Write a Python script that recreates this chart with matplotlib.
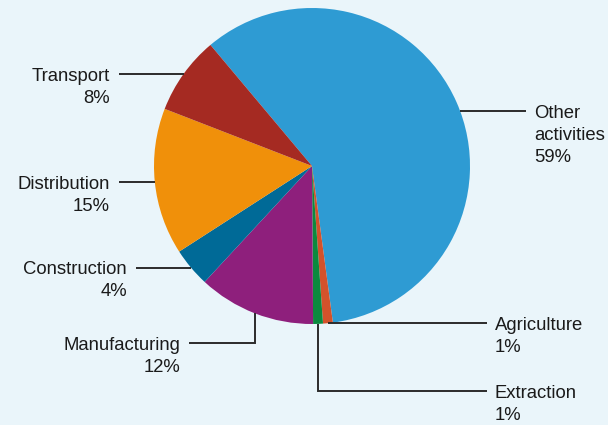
import numpy as np
import matplotlib.pyplot as plt

# Share of activity by sector (%)
sectors = ["Other\nactivities", "Agriculture", "Extraction", "Manufacturing",
           "Construction", "Distribution", "Transport"]
shares = [59, 1, 1, 12, 4, 15, 8]
colors = ["#2E9BD3", "#D3522B", "#0B8A3E", "#8E1F7C", "#006A97", "#F0900A", "#A52A22"]

W, H = 608, 425
BG = "#EAF5FA"
LINE = "#2b2b2b"

plt.rcParams['font.family'] = ['Liberation Sans', 'DejaVu Sans']

fig = plt.figure(figsize=(W / 100, H / 100), dpi=100, facecolor=BG)
ax = fig.add_axes([0, 0, 1, 1])
ax.set_facecolor(BG)

cx, cy, r = 312, H - 166, 158
wedges, _ = ax.pie(shares, colors=colors, startangle=130, counterclock=False,
                   center=(cx, cy), radius=r, frame=True,
                   wedgeprops=dict(linewidth=0))

# label layout: (side, kind, end x, elbow y in px, angle override)
layout = {
    "Other\nactivities": ("left", "h", 526, None, 20.4),
    "Agriculture": ("left", "h", 487, None, None),
    "Extraction": ("left", "elbow", 487, 391, None),
    "Manufacturing": ("right", "elbow", 189, 343, None),
    "Construction": ("right", "h", 136, None, None),
    "Distribution": ("right", "h", 119, None, None),
    "Transport": ("right", "h", 119, None, None),
}

for w, name, pct in zip(wedges, sectors, shares):
    side, kind, xend, elbow_y, ang = layout[name]
    if ang is None:
        ang = (w.theta1 + w.theta2) / 2
    ax_ = cx + r * np.cos(np.radians(ang))
    ay = cy + r * np.sin(np.radians(ang))
    if kind == "h":
        ax.plot([ax_, xend], [ay, ay], color=LINE, lw=1.4, solid_capstyle='butt')
        ty = ay
    else:
        ey = H - elbow_y
        ax.plot([ax_, ax_, xend], [ay, ey, ey], color=LINE, lw=1.4,
                solid_capstyle='butt', solid_joinstyle='miter')
        ty = ey
    if side == "left":
        tx, ha = xend + 8, "left"
    else:
        tx, ha = xend - 9, "right"
    rows = name.split("\n") + [f"{pct}%"]
    for i, s in enumerate(rows):
        ax.text(tx, ty - 6.6 - i * 22.3, s, ha=ha, va="baseline",
                fontsize=13.3, color="#1a1a1a")

ax.set_xlim(0, W)
ax.set_ylim(0, H)
ax.set_aspect('equal')
ax.axis('off')

fig.savefig("out.png", dpi=100, facecolor=BG)
